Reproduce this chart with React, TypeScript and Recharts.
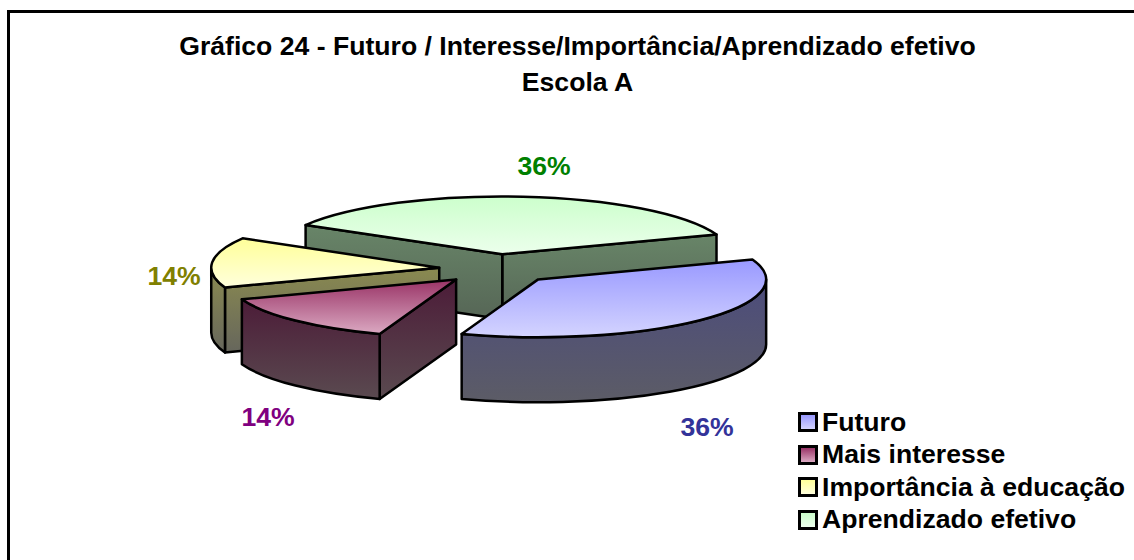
import { PieChart, Pie, Legend } from "recharts";

const names = ["Aprendizado efetivo", "Importância à educação", "Mais interesse", "Futuro"];
const values = [36, 14, 14, 36];
const legendOrder = ["Futuro", "Mais interesse", "Importância à educação", "Aprendizado efetivo"];
const titleLines = ["Gráfico 24 - Futuro / Interesse/Importância/Aprendizado efetivo", "Escola A"];

const topColors = [
  ["#ccffcc", "#ecffec"],
  ["#ffff99", "#ffffdc"],
  ["#993366", "#dba9c2"],
  ["#9999ff", "#d4d4ff"],
];
const wallColors = [
  ["#688568", "#566656"],
  ["#8a8a50", "#66665c"],
  ["#4c1c38", "#5a4a50"],
  ["#4c4c7c", "#5c5c66"],
];
const labelColors = ["#008000", "#808000", "#800080", "#333399"];
const labelSpots = [
  [544, 175],
  [174, 285],
  [268, 426],
  [707, 436],
];

const data = names.map((name, i) => ({ name, value: values[i] }));

const FONT = '"Liberation Sans", Arial, sans-serif';
const FONT_SIZE = 26.6;
const SQUASH = 0.254;
const DEPTH = 65;
const EXPLODE = 58;
const rad = Math.PI / 180;

// 3D slice, projected by hand from the angles the Pie computes
function Slice3D(props: any) {
  const { cx, cy, outerRadius: rx, startAngle, endAngle, index } = props;
  const ry = rx * SQUASH;
  const mid = ((startAngle + endAngle) / 2) * rad;
  const ox = cx + EXPLODE * Math.cos(mid);
  const oy = cy - EXPLODE * SQUASH * Math.sin(mid);
  const pt = (a: number, d = 0) =>
    `${ox + rx * Math.cos(a * rad)} ${oy - ry * Math.sin(a * rad) + d}`;
  const arc = (to: number, span: number, sweep: number, d = 0) =>
    `A ${rx} ${ry} 0 ${span > 180 ? 1 : 0} ${sweep} ${pt(to, d)}`;

  const walls: string[] = [];
  const radial = (a: number) =>
    `M ${ox} ${oy} L ${pt(a)} L ${pt(a, DEPTH)} L ${ox} ${oy + DEPTH} Z`;
  // radial faces only show when they turn towards the viewer
  if (Math.sin((startAngle - 90) * rad) < 0) walls.push(radial(startAngle));
  if (Math.sin((endAngle + 90) * rad) < 0) walls.push(radial(endAngle));
  [
    [180, 360],
    [540, 720],
  ].forEach(([lo, hi]) => {
    const a = Math.max(lo, startAngle);
    const b = Math.min(hi, endAngle);
    if (b > a) {
      walls.push(
        `M ${pt(a)} ${arc(b, b - a, 0)} L ${pt(b, DEPTH)} ${arc(a, b - a, 1, DEPTH)} Z`
      );
    }
  });

  const top = `M ${ox} ${oy} L ${pt(startAngle)} ${arc(endAngle, endAngle - startAngle, 0)} Z`;
  return (
    <g>
      <defs>
        <linearGradient id={`top${index}`} x1="0" y1="0" x2="0" y2="1">
          <stop offset="0" stopColor={topColors[index][0]} />
          <stop offset="1" stopColor={topColors[index][1]} />
        </linearGradient>
        <linearGradient id={`wall${index}`} x1="0" y1="0" x2="0" y2="1">
          <stop offset="0" stopColor={wallColors[index][0]} />
          <stop offset="1" stopColor={wallColors[index][1]} />
        </linearGradient>
      </defs>
      {walls.map((d, i) => (
        <path key={i} d={d} fill={`url(#wall${index})`} stroke="#000" strokeWidth={2.5} strokeLinejoin="round" />
      ))}
      <path d={top} fill={`url(#top${index})`} stroke="#000" strokeWidth={2.5} strokeLinejoin="round" />
    </g>
  );
}

function renderLabel(props: any) {
  const { index, value } = props;
  return (
    <text
      x={labelSpots[index][0]}
      y={labelSpots[index][1]}
      textAnchor="middle"
      fontFamily={FONT}
      fontWeight="bold"
      fontSize={FONT_SIZE}
      fill={labelColors[index]}
    >
      {value}%
    </text>
  );
}

function renderLegend() {
  return (
    <div style={{ fontFamily: FONT, fontWeight: "bold", fontSize: FONT_SIZE }}>
      {legendOrder.map((name) => {
        const i = names.indexOf(name);
        return (
          <div key={name} style={{ display: "flex", alignItems: "center", height: 32.5, whiteSpace: "nowrap" }}>
            <span
              style={{
                width: 14,
                height: 14,
                border: "3px solid #000",
                marginRight: 4,
                background: `linear-gradient(${topColors[i][0]}, ${topColors[i][1]})`,
              }}
            />
            {name}
          </div>
        );
      })}
    </div>
  );
}

export default function App() {
  return (
    <div style={{ position: "absolute", left: 0, top: 0, width: 1134, height: 560, overflow: "hidden", background: "#fff" }}>
      <div
        style={{
          position: "absolute",
          left: 7,
          top: 10,
          width: 1200,
          height: 600,
          border: "3px solid #000",
          boxSizing: "border-box",
        }}
      />
      <div
        style={{
          position: "absolute",
          left: 0,
          top: 28,
          width: 1155,
          textAlign: "center",
          fontFamily: FONT,
          fontWeight: "bold",
          fontSize: FONT_SIZE,
          lineHeight: "36px",
        }}
      >
        {titleLines.map((line) => (
          <div key={line}>{line}</div>
        ))}
      </div>
      <div style={{ position: "absolute", left: 0, top: 0 }}>
        <PieChart width={1134} height={560} margin={{ top: 0, right: 0, bottom: 0, left: 0 }}>
          <Pie
            data={data}
            dataKey="value"
            nameKey="name"
            cx={497}
            cy={269}
            outerRadius={228}
            startAngle={20}
            endAngle={380}
            shape={Slice3D}
            label={renderLabel}
            labelLine={false}
            isAnimationActive={false}
          />
          <Legend
            content={renderLegend}
            layout="vertical"
            wrapperStyle={{ position: "absolute", left: 798, top: 406, width: 336 }}
          />
        </PieChart>
      </div>
    </div>
  );
}
